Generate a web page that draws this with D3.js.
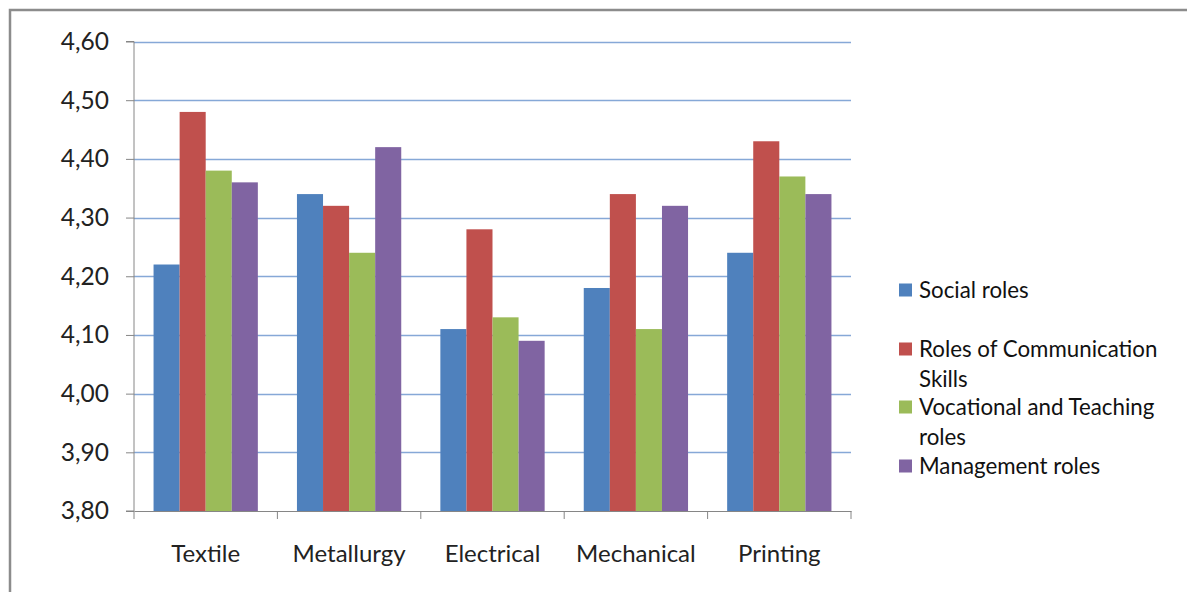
<!DOCTYPE html>
<html><head><meta charset="utf-8">
<script src="https://cdn.jsdelivr.net/npm/d3@7"></script>
<style>body{margin:0;background:#fff}svg{display:block}</style>
</head><body>
<svg id="c" width="1187" height="592"></svg>
<script>
const categories = ["Textile","Metallurgy","Electrical","Mechanical","Printing"];
const seriesNames = ["Social roles","Roles of Communication Skills","Vocational and Teaching roles","Management roles"];
const legendLines = [["Social roles"],["Roles of Communication","Skills"],["Vocational and Teaching","roles"],["Management roles"]];
const socialRoles = [4.22,4.34,4.11,4.18,4.24];
const communicationRoles = [4.48,4.32,4.28,4.34,4.43];
const vocationalRoles = [4.38,4.24,4.13,4.11,4.37];
const managementRoles = [4.36,4.42,4.09,4.32,4.34];
const yTicks = [3.8,3.9,4.0,4.1,4.2,4.3,4.4,4.5,4.6];
const colors = ["#4F81BD","#C0504D","#9BBB59","#8064A2"];
const seriesValues = [socialRoles,communicationRoles,vocationalRoles,managementRoles];

const font = "Lato, 'Open Sans', sans-serif";
const svg = d3.select("#c");
svg.append("path").attr("d","M10,600 V10 H1200").attr("fill","none").attr("stroke","#8c8c8c").attr("stroke-width",2.5);

const L=134,R=851,T=41.5,B=511;
const y = d3.scaleLinear().domain([3.8,4.6]).range([B,T]);
const x0 = d3.scaleBand().domain(categories).range([L,R]).paddingInner(0).paddingOuter(0);
const bw = x0.bandwidth()/5.5;
const x1s = d3.scaleBand().domain(d3.range(4)).range([0.75*bw, 4.75*bw]);

svg.append("g").selectAll("line").data(yTicks.slice(1)).join("line")
  .attr("x1",L).attr("x2",R).attr("y1",d=>Math.round(y(d))+0.5).attr("y2",d=>Math.round(y(d))+0.5)
  .attr("stroke","#86A8D7").attr("stroke-width",1.3);

const g = svg.append("g");
categories.forEach((c,ci)=>{
  seriesValues.forEach((vals,si)=>{
    g.append("rect").attr("x",x0(c)+x1s(si)).attr("width",x1s.bandwidth())
      .attr("y",y(vals[ci])).attr("height",B-y(vals[ci]))
      .attr("fill",colors[si]);
  });
});

const yAxis = d3.axisLeft(y).tickValues(yTicks).tickSize(8).tickPadding(17)
  .tickFormat(d=>d3.format(".2f")(d).replace(".",","));
const ya = svg.append("g").attr("transform",`translate(${L},0)`).call(yAxis);
ya.select(".domain").attr("stroke","#868686").attr("d",`M-8,${B}H0V${T}H-8`);
ya.selectAll(".tick line").attr("stroke","#868686");
ya.selectAll("text").attr("font-family",font).attr("font-size",24.5).attr("fill","#222");

const xAxis = d3.axisBottom(x0).tickSize(0).tickPadding(34);
const xa = svg.append("g").attr("transform",`translate(0,${B})`).call(xAxis);
xa.select(".domain").attr("stroke","#868686");
xa.selectAll("text").attr("font-family",font).attr("font-size",24).attr("fill","#222");
xa.append("g").selectAll("line").data(d3.range(6)).join("line")
  .attr("x1",i=>L+i*x0.bandwidth()).attr("x2",i=>L+i*x0.bandwidth())
  .attr("y1",0).attr("y2",8).attr("stroke","#868686");

const legY = [290,349,407,466];
const lg = svg.append("g");
legendLines.forEach((lines,i)=>{
  lg.append("rect").attr("x",899).attr("y",legY[i]-6.5).attr("width",13).attr("height",13).attr("fill",colors[i]);
  lines.forEach((t,j)=>{
    lg.append("text").attr("x",919).attr("y",legY[i]+7.5+j*30).text(t)
      .attr("font-family",font).attr("font-size",22.3).attr("fill","#111");
  });
});
</script>
</body></html>
